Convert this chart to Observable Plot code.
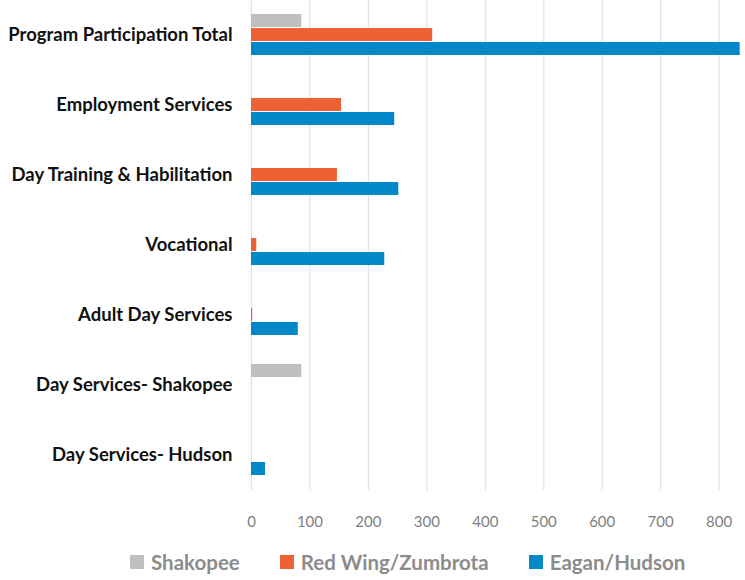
<!DOCTYPE html>
<html>
<head>
<meta charset="utf-8">
<script src="https://cdn.jsdelivr.net/npm/d3@7"></script>
<script src="https://cdn.jsdelivr.net/npm/@observablehq/plot@0.6"></script>
<style>
  html, body { margin: 0; padding: 0; background: #fff; }
  #chart { width: 745px; }
  .legend { display: flex; align-items: center; padding-left: 130px; height: 44px;
            font-family: Lato, "Open Sans", sans-serif; font-weight: bold; font-size: 20.5px; color: #8c8c8c; }
  .legend .item { display: flex; align-items: center; margin-right: 40px; }
  .legend .sw { width: 14px; height: 14px; margin-right: 7px; display: inline-block; }
</style>
</head>
<body>
<div id="chart"></div>
<script>
const categories = [
  "Program Participation Total",
  "Employment Services",
  "Day Training & Habilitation",
  "Vocational",
  "Adult Day Services",
  "Day Services- Shakopee",
  "Day Services- Hudson"
];
const series = ["Shakopee", "Red Wing/Zumbrota", "Eagan/Hudson"];
const colors = ["#bfbfbf", "#ee6134", "#0088c9"];
const shakopee = [86, 0, 0, 0, 0, 86, 0];
const redWing  = [310, 154, 147, 9, 2, 0, 0];
const eagan    = [836, 245, 252, 228, 80, 0, 24];
const xTicks = [0, 100, 200, 300, 400, 500, 600, 700, 800];

const valuesBySeries = [shakopee, redWing, eagan];
const data = [];
categories.forEach((c, i) => {
  series.forEach((s, j) => {
    data.push({category: c, series: s, value: valuesBySeries[j][i]});
  });
});

const chart = Plot.plot({
  width: 745,
  height: 540,
  marginLeft: 251,
  marginRight: 3,
  marginTop: 0,
  marginBottom: 50,
  style: {fontFamily: "Lato, 'Open Sans', sans-serif", background: "#fff"},
  fy: {domain: categories, padding: 0, label: null},
  y: {domain: series, axis: null, paddingInner: 0.04, paddingOuter: 1},
  x: {domain: [0, 840], label: null},
  color: {domain: series, range: colors},
  marks: [
    Plot.gridX(xTicks, {stroke: "#e2e2e2", strokeOpacity: 1, strokeWidth: 1.2}),
    Plot.barX(data, {x: "value", y: "series", fy: "category", fill: "series"}),
    Plot.axisX(xTicks, {tickSize: 0, tickPadding: 26, fontSize: 15, fill: "#7f7f7f", label: null}),
    Plot.axisFy({anchor: "left", tickSize: 0, tickPadding: 19, fontSize: 18.5, fontWeight: "bold", fill: "#111", label: null})
  ]
});
document.getElementById("chart").appendChild(chart);

const legend = document.createElement("div");
legend.className = "legend";
series.forEach((s, j) => {
  const item = document.createElement("span");
  item.className = "item";
  const sw = document.createElement("span");
  sw.className = "sw";
  sw.style.background = colors[j];
  item.appendChild(sw);
  item.appendChild(document.createTextNode(s));
  legend.appendChild(item);
});
document.getElementById("chart").appendChild(legend);
</script>
</body>
</html>
